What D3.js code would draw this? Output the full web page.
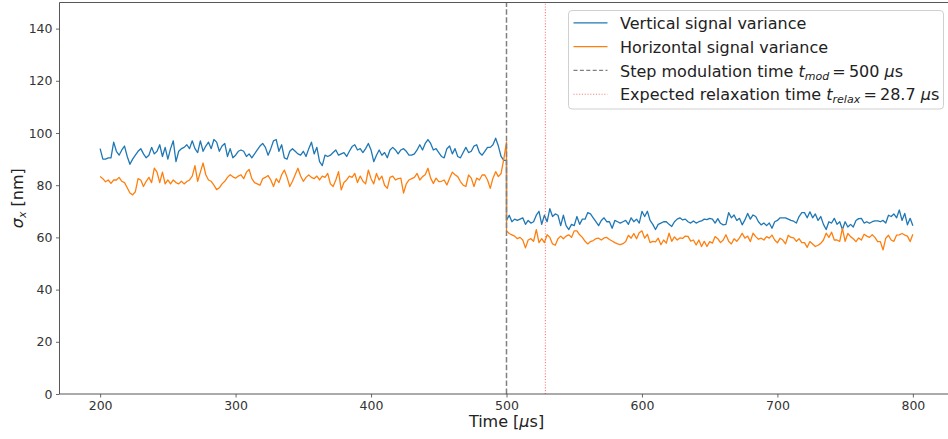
<!DOCTYPE html>
<html>
<head>
<meta charset="utf-8">
<script src="https://cdn.jsdelivr.net/npm/d3@7"></script>
<style>
  html, body { margin: 0; padding: 0; background: #fff; }
  svg { display: block; font-family: "DejaVu Sans", sans-serif; }
</style>
</head>
<body>
<svg id="chart" width="948" height="439"></svg>
<script>
// ---------- data ----------
const stepTime = 500;          // step modulation time (µs)
const relaxTime = 28.7;        // expected relaxation time (µs)
const tPre = d3.range(200, 501, 2);   // sample times before the step (µs)
const tPost = d3.range(500, 801, 2);  // sample times after the step (µs)

const verticalPre = [
  94, 90, 90, 90.5, 90.5, 96.5, 93, 91.5, 93.5, 95,
  91, 88, 90, 91.5, 93, 94, 92, 90.5, 91.5, 94.5,
  92, 93, 95.5, 91, 94.5, 90, 94, 97, 89, 93,
  94, 94.5, 95.5, 94, 97, 94, 92.5, 97, 93, 95,
  96.5, 94, 97.5, 96.5, 93, 95, 96, 91, 94, 90.5,
  91.5, 93, 93.5, 93, 91, 92, 90.5, 92, 93.5, 95,
  96, 94.5, 91.5, 94, 97, 97.5, 93, 95.5, 90.5, 90,
  93, 94, 93, 92, 91.5, 93, 91, 94, 96.5, 92,
  94.5, 89, 87.5, 91.5, 91, 91.5, 92.5, 93.5, 91.5, 92,
  92.5, 91, 93, 94.8, 95.5, 93.5, 94, 92.5, 94, 96,
  93.5, 89, 91.5, 93.5, 91.5, 92.5, 90.5, 93.5, 94.5, 93.5,
  92, 93.5, 94, 93, 91.5, 91.5, 92, 93.5, 95.5, 93.5,
  96, 97.5, 96, 93.5, 94, 92.5, 91, 90.5, 94, 95,
  92, 94, 91, 90.5, 92.5, 94.5, 92.5, 93, 95, 95.5,
  92.5, 91.5, 93, 94.5, 94.5, 95.5, 98, 95, 91, 89.5,
  89.5
];
const verticalPost = [
  66.5, 68.5, 66, 67, 66.5, 67, 67.5, 65, 66.5, 65.5,
  66, 68.5, 70, 65, 68.5, 66, 71, 68, 69, 68.5,
  64.5, 68.5, 64.5, 63, 65, 64.5, 68, 65, 67, 67,
  69.5, 69, 67.5, 66, 64.5, 66.5, 67.5, 66, 66, 63.5,
  66.5, 66, 65.5, 66, 66.5, 65, 67.5, 66, 67, 65.5,
  70, 68, 70, 66.5, 65, 63, 65, 65.5, 66, 66,
  65, 64.2, 66, 67, 67.5, 66.7, 67, 66, 65.5, 66.3,
  65.5, 66, 66.3, 67, 66.8, 67.3, 67, 65.5, 67.2, 65.4,
  64.8, 65, 69.5, 67.5, 68.6, 66.5, 67.3, 64.8, 66.7, 69.2,
  67, 68.6, 68, 66, 64.8, 65.5, 64.5, 65.5, 63.5, 66,
  66.5, 67.5, 67.5, 67.5, 67, 66.5, 66.2, 65.5, 68, 69.5,
  69.5, 67.5, 69.8, 67.5, 69, 66.5, 68, 65, 63, 66,
  65.5, 67.3, 65, 66, 63, 66, 64, 65, 64, 66.5,
  67.2, 67.3, 65.5, 66, 65.4, 66, 66.3, 66.3, 66, 66.5,
  65.5, 68.5, 68, 69, 67.5, 70.5, 66.5, 69.2, 64.8, 67.3,
  64.5
];
const horizontalPre = [
  83.3, 82.5, 81.3, 82, 80.7, 82, 82, 83, 81.5, 81,
  79, 77, 76.3, 77.5, 82.5, 82, 79.5, 81.5, 83, 81,
  86.5, 85, 81, 85, 80.5, 82, 80.5, 82, 81, 80.5,
  81.5, 80.5, 81.4, 82, 83.5, 87.5, 81.5, 85, 88.5, 84,
  82, 81.5, 80, 78.3, 79, 80.5, 81.5, 83, 84, 83.2,
  82.7, 83.5, 84, 82.5, 85, 86, 82.5, 81, 80.5, 80,
  82.5, 83, 83.7, 82, 79.5, 82.5, 81, 84, 85.8, 83,
  79.5, 81.5, 84, 86.5, 83.5, 81.5, 83, 83.9, 83, 82.5,
  83.5, 82, 83.5, 83, 84.5, 80.5, 79.5, 82, 85.2, 78.2,
  81, 82, 83.5, 83, 84.5, 81, 83.5, 81.5, 80.5, 85.8,
  82.5, 80.5, 84.5, 82, 83.5, 80, 78.8, 83, 83.5, 82,
  82.5, 82.7, 77, 80.5, 82, 82.5, 83, 84.5, 82, 83.3,
  84, 86.5, 82.7, 80.7, 82.7, 81.4, 81.5, 82, 80.1, 82.7,
  85, 84, 83.3, 81.4, 80, 79.5, 83.9, 82.7, 79.5, 82.7,
  82, 83.9, 83.9, 82, 78.8, 82.7, 85.2, 83.3, 84.5, 90,
  96.5
];
const horizontalPost = [
  62.5, 61.5, 61, 60.5, 59.5, 60, 59, 56, 59, 59.5,
  58.5, 63, 58, 59.5, 58, 61, 60, 57.5, 57, 59.5,
  60.5, 59.5, 60.5, 61, 60, 62.5, 62.5, 61, 60, 58.5,
  57.5, 58.4, 58.8, 59.5, 59.7, 59, 59.8, 60, 59.2, 58.6,
  58, 57.5, 57.2, 57.6, 58.4, 60.8, 59.7, 61.5, 59.5, 61.8,
  62.5, 59.7, 61.2, 58, 58.5, 58.3, 59.7, 57.2, 59, 57.8,
  61.6, 58.5, 60.2, 59, 59.8, 59.6, 60.5, 60.4, 58.6, 59,
  57.1, 59, 56.5, 58.5, 56.5, 58.4, 57.8, 60.3, 59.5, 58,
  59, 61, 58.5, 57.5, 59.5, 58.5, 59.8, 61.6, 59.7, 60.5,
  58.4, 61.6, 60.3, 59.3, 59.7, 59, 60.3, 59.7, 60.9, 59,
  57.9, 59.7, 59, 57.5, 60.8, 60, 59.8, 58.5, 59.5, 58,
  58, 56.2, 58.4, 57.5, 56.5, 57, 57.7, 59, 61.6, 60,
  62, 59, 59, 58.5, 63.5, 58.5, 61.5, 60.3, 59.5, 58.4,
  59.8, 59, 61.2, 60.5, 60, 61, 60, 58.4, 58.4, 55.2,
  59.7, 60.8, 59, 58.5, 60.9, 61, 61.5, 60.9, 60.5, 58.4,
  61.2
];
const xTicks = [200, 300, 400, 500, 600, 700, 800];
const yTicks = [0, 20, 40, 60, 80, 100, 120, 140];

// ---------- layout ----------
const svg = d3.select("#chart");
const mLeft = 59.5, mRight = 953.5, mTop = 2.5, mBottom = 394;
const x = d3.scaleLinear().domain([170, 830]).range([mLeft, mRight]);
const y = d3.scaleLinear().domain([0, 150]).range([mBottom, mTop]);

const times = tPre.concat(tPost);
const seriesData = [
  { name: "Vertical signal variance", color: "#1f77b4", values: verticalPre.concat(verticalPost) },
  { name: "Horizontal signal variance", color: "#ff7f0e", values: horizontalPre.concat(horizontalPost) }
];

const tickColor = "#333";
const tickFont = 12.5;
const redLine = "#ff5050";

// axes
const xAxis = svg.append("g")
  .attr("transform", `translate(0,${mBottom})`)
  .call(d3.axisBottom(x).tickValues(xTicks).tickSize(3.5).tickPadding(3.5).tickFormat(d3.format("d")));
const yAxis = svg.append("g")
  .attr("transform", `translate(${mLeft},0)`)
  .call(d3.axisLeft(y).tickValues(yTicks).tickSize(3.5).tickPadding(3.5).tickFormat(d3.format("d")));
[xAxis, yAxis].forEach(g => {
  g.select(".domain").remove();
  g.selectAll(".tick line").attr("stroke", "#444").attr("stroke-width", 0.8);
  g.selectAll(".tick text").attr("fill", tickColor)
    .style("font-family", "DejaVu Sans").style("font-size", tickFont + "px");
});

// clip
svg.append("clipPath").attr("id", "clip")
  .append("rect").attr("x", mLeft).attr("y", mTop).attr("width", mRight - mLeft).attr("height", mBottom - mTop);

const plot = svg.append("g").attr("clip-path", "url(#clip)");

const line = d3.line()
  .x((d, i) => x(times[i]))
  .y(d => y(d));

seriesData.forEach(s => {
  plot.append("path")
    .datum(s.values)
    .attr("fill", "none")
    .attr("stroke", s.color)
    .attr("stroke-width", 1.3)
    .attr("stroke-linejoin", "round")
    .attr("d", line);
});

// vertical markers
plot.append("line")
  .attr("x1", x(stepTime)).attr("x2", x(stepTime))
  .attr("y1", y(0)).attr("y2", y(150))
  .attr("stroke", "grey").attr("stroke-width", 1.5)
  .attr("stroke-dasharray", "5.5,2.4");
plot.append("line")
  .attr("x1", x(stepTime + relaxTime)).attr("x2", x(stepTime + relaxTime))
  .attr("y1", y(0)).attr("y2", y(150))
  .attr("stroke", redLine).attr("stroke-opacity", 0.75).attr("stroke-width", 1.1)
  .attr("stroke-dasharray", "1.1,1.7");

// spines
const spine = svg.append("g").attr("fill", "none").attr("stroke", "#444").attr("stroke-width", 0.9);
spine.append("line").attr("x1", mLeft).attr("x2", mLeft).attr("y1", mTop).attr("y2", mBottom);
spine.append("line").attr("x1", mLeft).attr("x2", mRight).attr("y1", mBottom).attr("y2", mBottom);
spine.append("line").attr("x1", mLeft).attr("x2", mRight).attr("y1", mTop).attr("y2", mTop);
spine.append("line").attr("x1", mRight).attr("x2", mRight).attr("y1", mTop).attr("y2", mBottom);

// axis labels
const xl = svg.append("text")
  .attr("x", (mLeft + mRight) / 2).attr("y", 427)
  .attr("text-anchor", "middle")
  .style("font-size", "16px").attr("fill", "#222");
xl.append("tspan").text("Time [");
xl.append("tspan").style("font-style", "italic").text("\u03bc");
xl.append("tspan").text("s]");

const yl = svg.append("text")
  .attr("transform", `translate(23,${(mTop + mBottom) / 2}) rotate(-90)`)
  .attr("text-anchor", "middle")
  .style("font-size", "16px").attr("fill", "#222");
yl.append("tspan").style("font-style", "italic").text("\u03c3");
yl.append("tspan").style("font-style", "italic").style("font-size", "11px").attr("dy", 3).text("x");
yl.append("tspan").attr("dy", -3).text(" [nm]");

// legend
const legend = svg.append("g");
legend.append("rect")
  .attr("x", 568.5).attr("y", 10.5).attr("width", 375).attr("height", 98.5)
  .attr("rx", 3.5).attr("ry", 3.5)
  .attr("fill", "#fff").attr("fill-opacity", 0.85)
  .attr("stroke", "#d0d0d0").attr("stroke-width", 1);

const rowY = [22.8, 46.6, 70.4, 94.2];
const handles = [
  { color: "#1f77b4", dash: null, width: 1.3, opacity: 1 },
  { color: "#ff7f0e", dash: null, width: 1.3, opacity: 1 },
  { color: "grey", dash: "4,2.4", width: 1.1, opacity: 1 },
  { color: redLine, dash: "1.1,1.7", width: 1.1, opacity: 0.75 }
];
handles.forEach((h, i) => {
  const l = legend.append("line")
    .attr("x1", 573.5).attr("x2", 607.5)
    .attr("y1", rowY[i]).attr("y2", rowY[i])
    .attr("stroke", h.color).attr("stroke-width", h.width)
    .attr("stroke-opacity", h.opacity);
  if (h.dash) l.attr("stroke-dasharray", h.dash);
});

const textX = 620;
function legendText(i) {
  return legend.append("text")
    .attr("x", textX).attr("y", rowY[i] + 6.2)
    .style("font-size", "16px").attr("fill", "#222");
}
legendText(0).text(seriesData[0].name);
legendText(1).text(seriesData[1].name);

const t3 = legendText(2);
t3.append("tspan").text("Step modulation time ");
t3.append("tspan").style("font-style", "italic").text("t");
t3.append("tspan").style("font-style", "italic").style("font-size", "11px").attr("dy", 3).text("mod");
t3.append("tspan").attr("dy", -3).text("\u2009=\u2009" + stepTime + " ");
t3.append("tspan").style("font-style", "italic").text("\u03bc");
t3.append("tspan").text("s");

const t4 = legendText(3);
t4.append("tspan").text("Expected relaxation time ");
t4.append("tspan").style("font-style", "italic").text("t");
t4.append("tspan").style("font-style", "italic").style("font-size", "11px").attr("dy", 3).text("relax");
t4.append("tspan").attr("dy", -3).text("\u2009=\u2009" + relaxTime + " ");
t4.append("tspan").style("font-style", "italic").text("\u03bc");
t4.append("tspan").text("s");
</script>
</body>
</html>
